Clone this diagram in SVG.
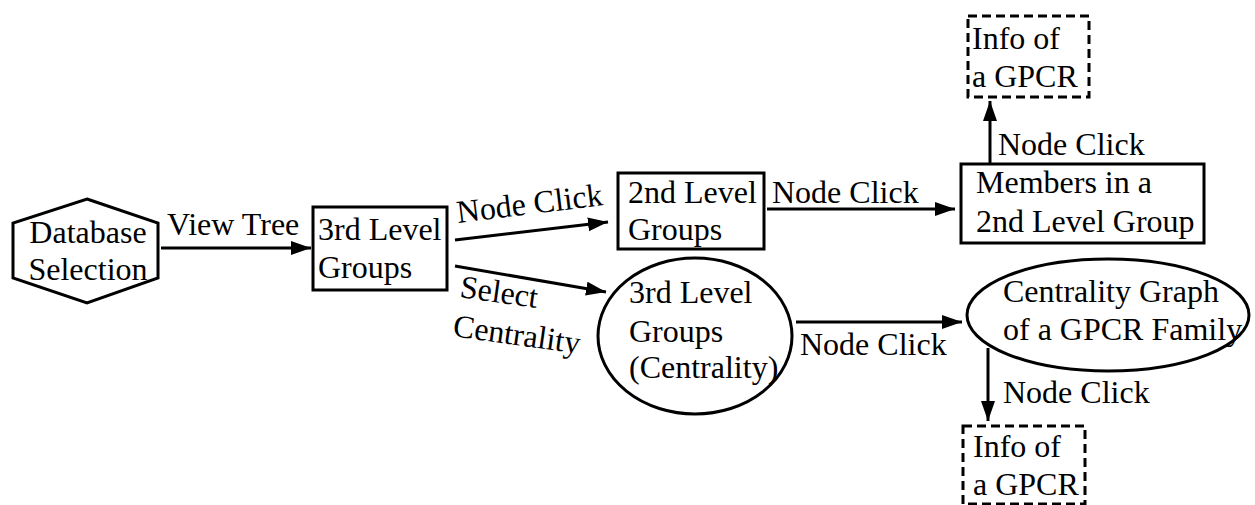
<svg xmlns="http://www.w3.org/2000/svg" width="1255" height="505" viewBox="0 0 1255 505">
<defs>
<style>
text{font-family:"Liberation Serif","Times New Roman",serif;font-size:32px;fill:#000}
.n{fill:#fff;stroke:#000;stroke-width:3}
.d{fill:#fff;stroke:#000;stroke-width:3;stroke-dasharray:9 5}
.e{fill:none;stroke:#000;stroke-width:3;marker-end:url(#ah)}
</style>
<marker id="ah" markerUnits="userSpaceOnUse" markerWidth="22" markerHeight="16" refX="20" refY="7" orient="auto">
<path d="M0,0 L20,7 L0,14 z" fill="#000"/>
</marker>
</defs>
<rect width="1255" height="505" fill="#fff"/>
<g id="connectors">
<line class="e" x1="161" y1="248" x2="311" y2="248"/>
<text x="167" y="235">View Tree</text>
<line class="e" x1="455" y1="240" x2="608" y2="222"/>
<text transform="translate(458,223) rotate(-7)">Node Click</text>
<line class="e" x1="455" y1="266" x2="606" y2="292"/>
<text transform="translate(459,297) rotate(8)">Select</text>
<text transform="translate(452,336) rotate(8)">Centrality</text>
<line class="e" x1="767" y1="209" x2="955" y2="209"/>
<text x="772" y="203">Node Click</text>
<line class="e" x1="990" y1="163" x2="990" y2="101"/>
<text x="998" y="155">Node Click</text>
<line class="e" x1="796" y1="322" x2="962" y2="322"/>
<text x="800" y="355">Node Click</text>
<line class="e" x1="988" y1="348" x2="988" y2="421"/>
<text x="1003" y="403">Node Click</text>
</g>
<g id="database">
<polygon class="n" points="87,199 158,223 158,278 87,303 13,278 13,223"/>
<text x="88" y="243" text-anchor="middle">Database</text>
<text x="88" y="280" text-anchor="middle">Selection</text>
</g>
<g id="level3">
<rect class="n" x="313" y="207" width="134" height="83"/>
<text x="318" y="240">3rd Level</text>
<text x="318" y="278">Groups</text>
</g>
<g id="level2">
<rect class="n" x="618" y="173" width="146" height="76"/>
<text x="628" y="203">2nd Level</text>
<text x="628" y="240">Groups</text>
</g>
<g id="members">
<rect class="n" x="961" y="164" width="243" height="79"/>
<text x="976" y="193">Members in a</text>
<text x="976" y="232">2nd Level Group</text>
</g>
<g id="info-top">
<rect class="d" x="968" y="16" width="121" height="81"/>
<text x="972" y="49">Info of</text>
<text x="972" y="87">a GPCR</text>
</g>
<g id="centrality3">
<ellipse class="n" cx="695" cy="336" rx="97" ry="78"/>
<text x="629" y="303">3rd Level</text>
<text x="629" y="342">Groups</text>
<text x="629" y="378">(Centrality)</text>
</g>
<g id="centrality-graph">
<ellipse class="n" cx="1108" cy="315" rx="141" ry="56"/>
<text x="1003" y="302">Centrality Graph</text>
<text x="1003" y="340">of a GPCR Family</text>
</g>
<g id="info-bottom">
<rect class="d" x="963" y="426" width="122" height="78"/>
<text x="973" y="457">Info of</text>
<text x="973" y="495">a GPCR</text>
</g>
</svg>
